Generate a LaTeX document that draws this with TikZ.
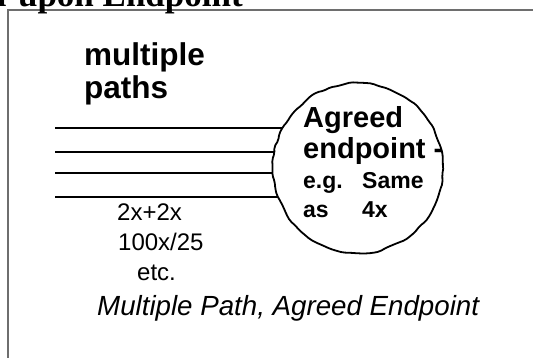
\documentclass[tikz,border=0pt]{standalone}
\usepackage{fontspec}
\setmainfont{Liberation Sans}
\newfontfamily\titlefont{Liberation Serif}
\usetikzlibrary{decorations.pathmorphing}
\definecolor{framegray}{RGB}{110,110,110}

\begin{document}
\begin{tikzpicture}[x=1pt,y=-1pt,
  wire/.style={line width=1.8pt},
  lbl/.style={anchor=base west,inner sep=0pt},
  bigtext/.style={lbl,font=\fontsize{31.5}{31.5}\selectfont\bfseries},
  midtext/.style={lbl,font=\fontsize{29}{29}\selectfont\bfseries},
  smalltext/.style={lbl,font=\fontsize{23}{23}\selectfont\bfseries},
  notetext/.style={lbl,font=\fontsize{24}{24}\selectfont},
  captext/.style={lbl,font=\fontsize{27.7}{27.7}\selectfont\itshape}]

\useasboundingbox (0,0) rectangle (533,358);
\pgfmathsetseed{7}

\draw[framegray,line width=1.5pt] (8,358) -- (8,10) -- (533,10);

\node[anchor=base east,inner sep=0pt,font=\titlefont\fontsize{35}{35}\selectfont\bfseries] (title) at (243,7) {Agreed-upon Endpoint};

\node[circle,minimum size=170pt,inner sep=0pt] (ep) at (358,168) {};
\draw[line width=1.8pt,rounded corners=2pt,decorate,decoration={random steps,segment length=7pt,amplitude=1pt}] (ep.center) circle[radius=85pt];

\coordinate (w1) at (55,128);
\coordinate (w2) at (55,152);
\coordinate (w3) at (55,173);
\coordinate (w4) at (55,197);
\draw[wire] (w1) -- (w1 -| ep.152);
\draw[wire] (w2) -- (w2 -| ep.169);
\draw[wire] (w3) -- (w3 -| ep.183);
\draw[wire] (w4) -- (w4 -| ep.200);

\node[bigtext] (mult) at (84,66) {multiple};
\node[bigtext] (paths) at (84,99) {paths};

\node[midtext] (agreed) at (303,128) {Agreed};
\node[midtext] (endpt) at (303,159) {endpoint -};
\node[smalltext] (eg) at (303,189) {e.g.};
\node[smalltext] (same) at (362,189) {Same};
\node[smalltext] (as) at (303,218) {as};
\node[smalltext] (fourx) at (362,218) {4x};

\node[notetext] (ratioa) at (117,221) {2x+2x};
\node[notetext] (ratiob) at (118,251) {100x/25};
\node[notetext] (etc) at (137,280) {etc.};

\node[captext] (caption) at (97,316) {Multiple Path, Agreed Endpoint};
\end{tikzpicture}
\end{document}
